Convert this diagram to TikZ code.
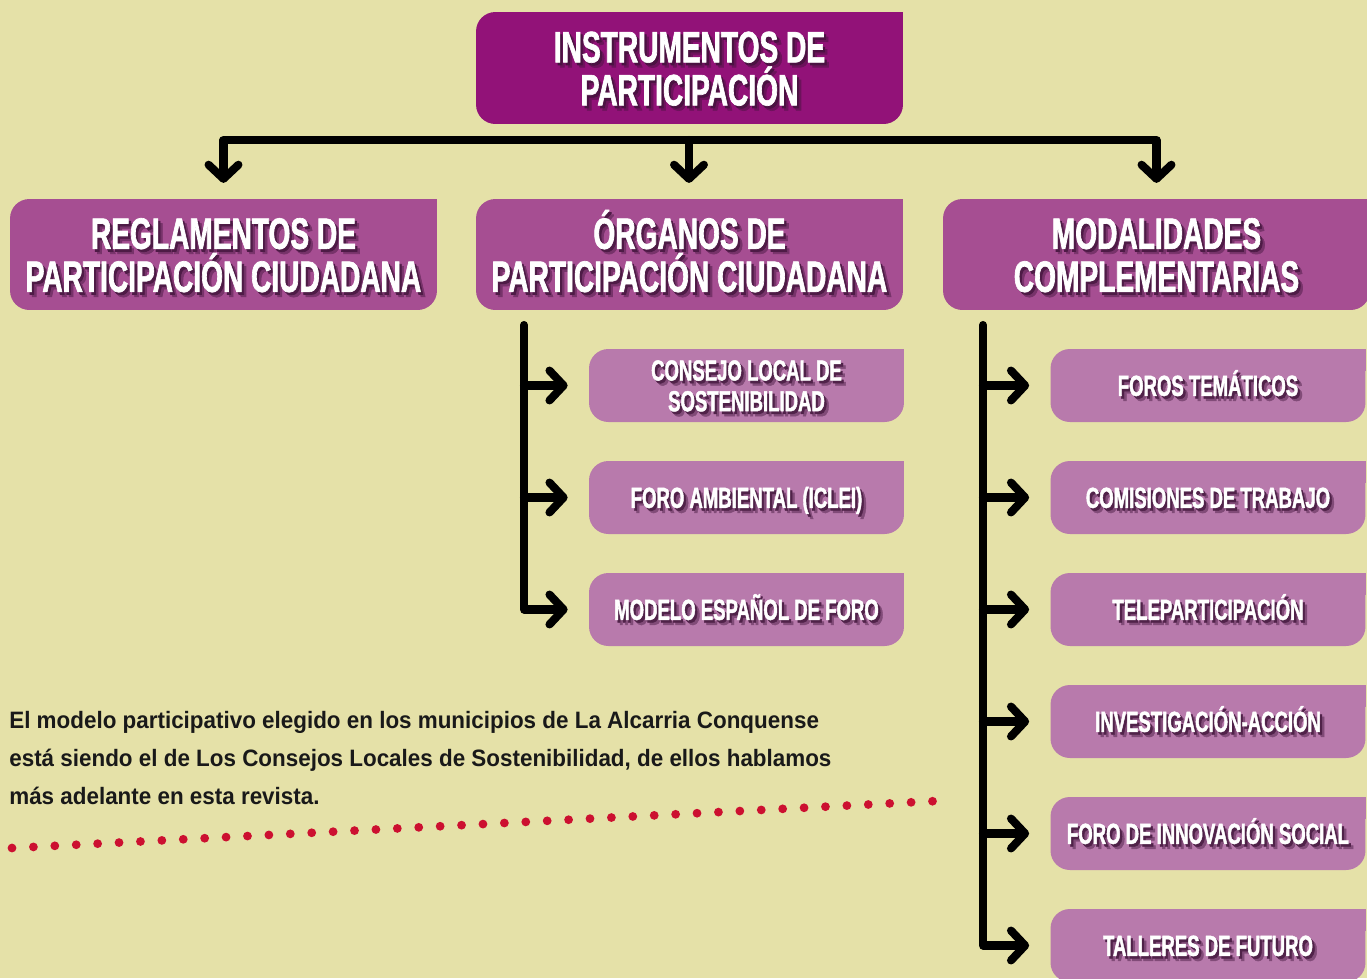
\documentclass[tikz,border=0pt]{standalone}
\usepackage{fontspec}
\usepackage{xcolor}
\usepackage{tikz}
\usetikzlibrary{arrows.meta}

\setmainfont{Liberation Sans}
\newfontfamily\headfont[FakeStretch=0.64,BoldFeatures={FakeBold=1.5}]{Liberation Sans}
\newfontfamily\notefont[FakeStretch=0.945]{Liberation Sans}

\definecolor{bgcol}{RGB}{229,225,168}
\definecolor{topcol}{RGB}{146,18,120}
\definecolor{grpcol}{RGB}{166,78,146}
\definecolor{subcol}{RGB}{184,122,172}
\definecolor{shadecol}{RGB}{62,18,56}
\definecolor{dotcol}{RGB}{204,16,48}

% centred lines, fixed baselines
\newcommand\shblock[1]{\vbox{\lineskiplimit=-100pt\def\\{\cr}\halign{\hfil##\hfil\cr#1\crcr}}}
% white text with a dark shadow under it
\newcommand\shtxt[1]{\leavevmode
  \rlap{\kern2.6pt\raisebox{-2.8pt}{\color{shadecol!45!\shfill}\shblock{#1}}}%
  \rlap{\kern1.3pt\raisebox{-1.5pt}{\color{shadecol!85!\shfill}\shblock{#1}}}%
  \shblock{#1}}

\begin{document}
\begin{tikzpicture}[x=0.02cm,y=-0.02cm,
				>={Straight Barb[round,length=8pt,width=17pt]},
				box/.style={rounded corners=11pt,inner sep=0pt,text=white,
					text height=42.5pt,text depth=0pt,
					font=\headfont\bfseries\fontsize{25}{24.5}\selectfont},
				topbox/.style={box,fill=topcol,minimum width=8.54cm,minimum height=2.24cm,
					execute at begin node={\def\shfill{topcol}}},
				grpbox/.style={box,fill=grpcol,minimum width=8.54cm,minimum height=2.22cm,
					execute at begin node={\def\shfill{grpcol}}},
				subbox/.style={box,fill=subcol,minimum width=6.3cm,minimum height=1.46cm,
					text height=11.8pt,
					font=\headfont\bfseries\fontsize{16.5}{17.5}\selectfont,
					execute at begin node={\def\shfill{subcol}}},
				arr/.style={line width=4.6pt,line cap=round,line join=round,->},
				dots/.style={dotcol,line width=5pt,line cap=round,dash pattern=on 0pt off 12.2pt},
				note/.style={inner sep=0pt,align=left,text=black!90,
					font=\notefont\bfseries\fontsize{13.5}{21.5}\selectfont}]
				
				\clip (0,0) rectangle (1367,978);
				\fill[bgcol] (0,0) rectangle (1367,978);
				
				% Top
				\node[topbox] (top) at (689.5,68) {\shtxt{INSTRUMENTOS DE\\PARTICIPACIÓN}};
				
				% Groups
				\node[grpbox] (regl) at (223.5,254.5) {\shtxt{REGLAMENTOS DE\\PARTICIPACIÓN CIUDADANA}};
				\node[grpbox] (organos) at (689.5,254.5) {\shtxt{ÓRGANOS DE\\PARTICIPACIÓN CIUDADANA}};
				\node[grpbox] (modal) at (1156.5,254.5) {\shtxt{MODALIDADES\\COMPLEMENTARIAS}};
				
				% Organos items
				\foreach \n/\t [count=\i] in {foroamb/{FORO AMBIENTAL (ICLEI)},modelo/{MODELO ESPAÑOL DE FORO}}
				\node[subbox] (\n) at (746.5,385.5+\i*112) {\shtxt{\t}};
				\node[subbox,text height=29.3pt] (consejo) at (746.5,385.5) {\shtxt{CONSEJO LOCAL DE\\SOSTENIBILIDAD}};
				
				% Modalidades items
				\foreach \n/\t [count=\i] in {foros/{FOROS TEMÁTICOS},comis/{COMISIONES DE TRABAJO},
					telep/{TELEPARTICIPACIÓN},invest/{INVESTIGACIÓN-ACCIÓN},
					innov/{FORO DE INNOVACIÓN SOCIAL},talleres/{TALLERES DE FUTURO}}
				\node[subbox] (\n) at (1208,273.5+\i*112) {\shtxt{\t}};
				
				% square top right corners
				\fill[topcol] (top.north east) rectangle ++(-22,22);
				\foreach \n in {regl,organos,modal}
				\fill[grpcol] (\n.north east) rectangle ++(-22,22);
				\foreach \n in {consejo,foroamb,modelo,foros,comis,telep,invest,innov,talleres}
				\fill[subcol] (\n.north east) rectangle ++(-22,22);
				
				% Connections
				\coordinate (bar) at (689,140);
				\draw[arr,<->,shorten <=9pt,shorten >=9pt] (regl.north) |- (bar) -| (modal.north);
				\draw[arr,shorten >=9pt] (bar) -- (bar |- organos.north);
				
				\coordinate (otrunk) at (524,325);
				\draw[arr,shorten >=12pt] (otrunk) |- (modelo.west);
				\foreach \n in {consejo,foroamb}
				\draw[arr,shorten >=12pt] (otrunk |- \n.west) -- (\n.west);
				
				\coordinate (mtrunk) at (983,325);
				\draw[arr,shorten >=12pt] (mtrunk) |- (talleres.west);
				\foreach \n in {foros,comis,telep,invest,innov}
				\draw[arr,shorten >=12pt] (mtrunk |- \n.west) -- (\n.west);
				
				% Note
				\node[note,anchor=north west] (txt) at (9,711) {El modelo participativo elegido en los municipios de La Alcarria Conquense\\
					está siendo el de Los Consejos Locales de Sostenibilidad, de ellos hablamos\\
					más adelante en esta revista.};
				\coordinate (dotA) at (12,848);
				\coordinate (dotB) at (937,801);
				\draw[dots] (dotA) -- (dotB);
			\end{tikzpicture}
\end{document}
